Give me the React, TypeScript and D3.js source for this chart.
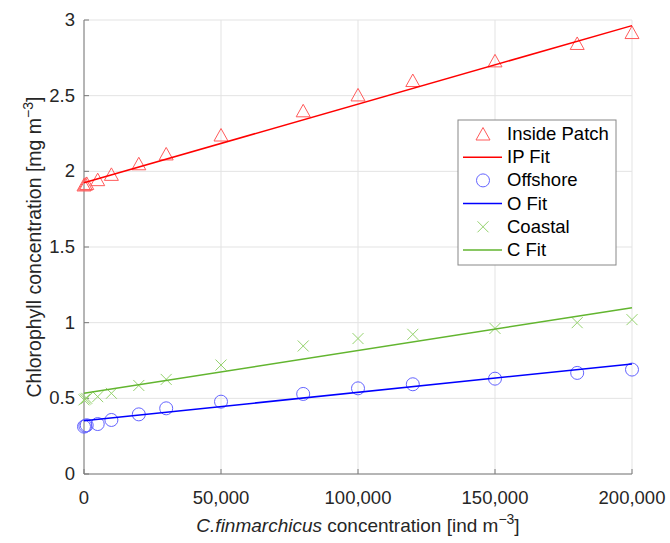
import React from "react";
import * as d3 from "d3";

const xTicks = [0, 50000, 100000, 150000, 200000];
const yTicks = [0, 0.5, 1, 1.5, 2, 2.5, 3];

const xValues = [0, 500, 1000, 5000, 10000, 20000, 30000, 50000, 80000, 100000, 120000, 150000, 180000, 200000];
const insidePatch = [1.91, 1.915, 1.92, 1.945, 1.98, 2.05, 2.115, 2.24, 2.4, 2.505, 2.6, 2.73, 2.845, 2.917];
const offshore = [0.313, 0.318, 0.322, 0.33, 0.357, 0.394, 0.434, 0.478, 0.529, 0.566, 0.593, 0.63, 0.668, 0.69];
const coastal = [0.49, 0.495, 0.5, 0.511, 0.533, 0.585, 0.625, 0.72, 0.846, 0.895, 0.923, 0.962, 1.0, 1.02];

const fitX = [0, 200000];
const ipFit = [1.925, 2.963];
const oFit = [0.352, 0.727];
const cFit = [0.533, 1.099];

const legendItems = [
  { label: "Inside Patch", kind: "tri", color: "#ff5a5a" },
  { label: "IP Fit", kind: "line", color: "#ff0000" },
  { label: "Offshore", kind: "circle", color: "#6464ff" },
  { label: "O Fit", kind: "line", color: "#0000ff" },
  { label: "Coastal", kind: "cross", color: "#95d26e" },
  { label: "C Fit", kind: "line", color: "#62b52f" },
];

const FONT = "'Liberation Sans', Arial, Helvetica, sans-serif";

function Marker({ kind, x, y, color }: { kind: string; x: number; y: number; color: string }) {
  if (kind === "tri") {
    const h = 12, w = 14;
    const pts = `${x},${y - h / 2 - 0.5} ${x - w / 2},${y + h / 2} ${x + w / 2},${y + h / 2}`;
    return <polygon points={pts} fill="none" stroke={color} strokeWidth={1} />;
  }
  if (kind === "circle") {
    return <circle cx={x} cy={y} r={6.5} fill="none" stroke={color} strokeWidth={1} />;
  }
  if (kind === "cross") {
    const s = 5.5;
    return (
      <g stroke={color} strokeWidth={1}>
        <line x1={x - s} y1={y - s} x2={x + s} y2={y + s} />
        <line x1={x - s} y1={y + s} x2={x + s} y2={y - s} />
      </g>
    );
  }
  return null;
}

export default function App() {
  const W = 670, H = 543;
  const x = d3.scaleLinear().domain([0, 200000]).range([84, 632]);
  const y = d3.scaleLinear().domain([0, 3]).range([474, 20]);
  const fmt = d3.format(",");
  const line = d3
    .line<number>()
    .x((_, i) => x(fitX[i]))
    .y((d) => y(d));

  const series = [
    { data: insidePatch, kind: "tri", color: "#ff5a5a", fit: ipFit, fitColor: "#ff0000" },
    { data: offshore, kind: "circle", color: "#6464ff", fit: oFit, fitColor: "#0000ff" },
    { data: coastal, kind: "cross", color: "#95d26e", fit: cFit, fitColor: "#62b52f" },
  ];

  const lx = 458, ly = 120, lw = 158, lh = 145;

  return (
    <svg width={W} height={H} style={{ position: "absolute", left: 0, top: 0, background: "#fff" }} fontFamily={FONT}>
      <rect x={0} y={0} width={W} height={H} fill="#fff" />
      {/* grid */}
      <g stroke="#e3e3e3" strokeWidth={1}>
        {xTicks.map((t) => (
          <line key={"gx" + t} x1={x(t)} x2={x(t)} y1={y(0)} y2={y(3)} />
        ))}
        {yTicks.map((t) => (
          <line key={"gy" + t} x1={x(0)} x2={x(200000)} y1={y(t)} y2={y(t)} />
        ))}
      </g>
      {/* axes */}
      <g stroke="#7a7a7a" strokeWidth={1}>
        <line x1={x(0)} x2={x(0)} y1={y(0)} y2={y(3)} />
        <line x1={x(0)} x2={x(200000)} y1={y(0)} y2={y(0)} />
        {xTicks.map((t) => (
          <line key={"tx" + t} x1={x(t)} x2={x(t)} y1={y(0)} y2={y(0) - 5} />
        ))}
        {yTicks.map((t) => (
          <line key={"ty" + t} x1={x(0)} x2={x(0) + 5} y1={y(t)} y2={y(t)} />
        ))}
      </g>
      {/* tick labels */}
      <g fontSize={18.5} fill="#262626">
        {xTicks.map((t) => (
          <text key={"lx" + t} x={x(t)} y={y(0) + 30} textAnchor="middle">
            {fmt(t)}
          </text>
        ))}
        {yTicks.map((t) => (
          <text key={"ly" + t} x={x(0) - 9} y={y(t) + 6} textAnchor="end">
            {String(t)}
          </text>
        ))}
      </g>
      {/* axis labels */}
      <text x={358} y={532} textAnchor="middle" fontSize={19} fill="#262626">
        <tspan fontStyle="italic">C.finmarchicus</tspan>
        <tspan> concentration [ind m</tspan>
        <tspan dy={-8} fontSize={14}>−3</tspan>
        <tspan dy={8}>]</tspan>
      </text>
      <text
        transform={`translate(41, ${(y(0) + y(3)) / 2}) rotate(-90)`}
        textAnchor="middle"
        fontSize={19.5}
        fill="#262626"
      >
        <tspan>Chlorophyll concentration [mg m</tspan>
        <tspan dy={-8} fontSize={14}>−3</tspan>
        <tspan dy={8}>]</tspan>
      </text>
      {/* data */}
      {series.map((s, si) => (
        <g key={"s" + si}>
          {s.data.map((v, i) => (
            <Marker key={i} kind={s.kind} x={x(xValues[i])} y={y(v)} color={s.color} />
          ))}
          <path d={line(s.fit) || ""} fill="none" stroke={s.fitColor} strokeWidth={1.5} />
        </g>
      ))}
      {/* legend */}
      <rect x={lx} y={ly} width={lw} height={lh} fill="#fff" stroke="#888" strokeWidth={1} />
      {legendItems.map((it, i) => {
        const cy = 134 + i * 23.2;
        return (
          <g key={"lg" + i}>
            {it.kind === "line" ? (
              <line x1={463} x2={502} y1={cy} y2={cy} stroke={it.color} strokeWidth={1.5} />
            ) : (
              <Marker kind={it.kind} x={483} y={cy} color={it.color} />
            )}
            <text x={507} y={cy + 6} fontSize={18.5} fill="#000">
              {it.label}
            </text>
          </g>
        );
      })}
    </svg>
  );
}
